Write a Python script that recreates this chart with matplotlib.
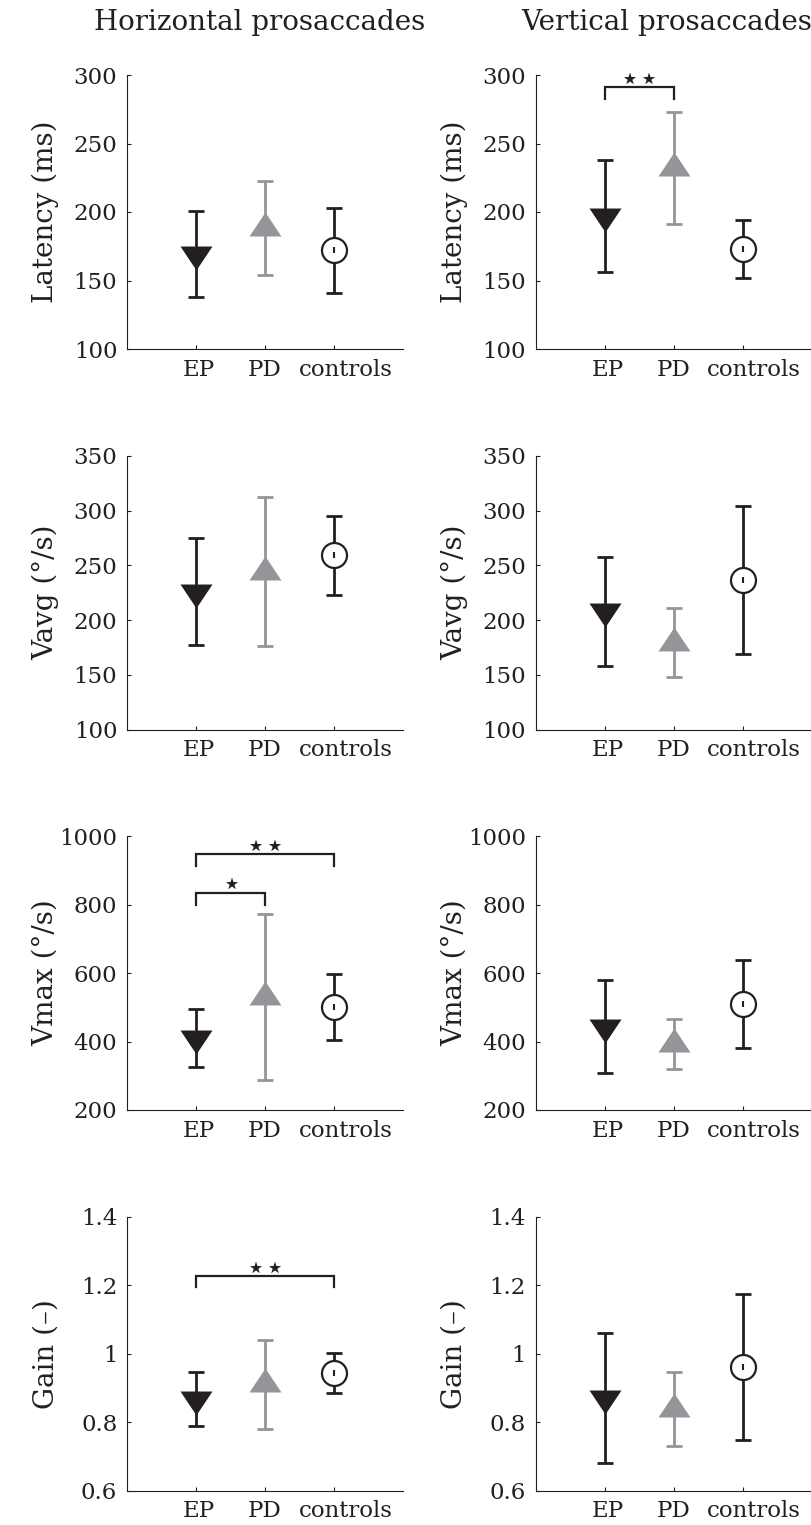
import matplotlib
matplotlib.use('Agg')
import matplotlib.pyplot as plt
import matplotlib.transforms as mtransforms
import numpy as np

plt.rcParams['font.family'] = ['DejaVu Serif']

groups = ['EP', 'PD', 'controls']
col_titles = ['Horizontal prosaccades', 'Vertical prosaccades']
ylabels = ['Latency (ms)', 'Vavg (°/s)', 'Vmax (°/s)', 'Gain (–)']

# mean and SD, one list per measure and direction
latency_h_mean = [169.5, 188.3, 172]
latency_h_sd = [31.5, 34.3, 31]
latency_v_mean = [197, 232, 173]
latency_v_sd = [41, 41, 21]

vavg_h_mean = [226, 244, 259]
vavg_h_sd = [48.5, 68, 36]
vavg_v_mean = [208, 179.4, 236.5]
vavg_v_sd = [50, 31.3, 67.5]

vmax_h_mean = [410, 530, 501]
vmax_h_sd = [85, 242, 97.5]
vmax_v_mean = [443, 393, 509]
vmax_v_sd = [136, 73, 129]

gain_h_mean = [0.868, 0.911, 0.944]
gain_h_sd = [0.078, 0.13, 0.058]
gain_v_mean = [0.871, 0.838, 0.961]
gain_v_sd = [0.19, 0.108, 0.214]

y_ranges = [(100, 300, 50), (100, 350, 50), (200, 1000, 200), (0.6, 1.4, 0.2)]
gain_ticklabels = ['0.6', '0.8', '1', '1.2', '1.4']

# significance brackets: (row, col, group a, group b, bar height, leg end, stars)
sig_pairs = [
    (0, 1, 0, 1, 291, 282.5, '⋆⋆'),
    (2, 0, 0, 2, 946, 912, '⋆⋆'),
    (2, 0, 0, 1, 834, 798, '⋆'),
    (3, 0, 0, 2, 1.227, 1.194, '⋆⋆'),
]

means = [[latency_h_mean, latency_v_mean], [vavg_h_mean, vavg_v_mean],
         [vmax_h_mean, vmax_v_mean], [gain_h_mean, gain_v_mean]]
sds = [[latency_h_sd, latency_v_sd], [vavg_h_sd, vavg_v_sd],
       [vmax_h_sd, vmax_v_sd], [gain_h_sd, gain_v_sd]]

black = '#231f20'
grey = '#939598'
colors = [black, grey, black]

# triangle markers anchored at their centroid, wider than tall
tri_down = [(-1, 0.5), (1, 0.5), (0, -1), (-1, 0.5)]
tri_up = [(-1, -0.5), (1, -0.5), (0, 1), (-1, -0.5)]

W, H = 812, 1525
fig = plt.figure(figsize=(W / 100, H / 100), dpi=100)

lefts = [127, 535.7]
bottoms = [349, 729.7, 1110, 1490.7]
ax_w, ax_h = 276.3, 274
label_shift = [2, 0, 8]  # points, group labels sit a little right in the original

x = np.arange(1, 4)
axes = {}
for r in range(4):
    for c in range(2):
        ax = fig.add_axes([lefts[c] / W, 1 - bottoms[r] / H, ax_w / W, ax_h / H])
        axes[(r, c)] = ax
        m = means[r][c]
        s = sds[r][c]
        for i in range(3):
            ax.errorbar(x[i], m[i], yerr=s[i], fmt='none', ecolor=colors[i],
                        elinewidth=2.0, capsize=6, capthick=2.0, zorder=2)
        ax.plot(x[0], m[0], marker=tri_down, ms=23, color=black, mec=black, mew=0, ls='none', zorder=3)
        ax.plot(x[1], m[1], marker=tri_up, ms=23, color=grey, mec=grey, mew=0, ls='none', zorder=3)
        ax.plot(x[2], m[2], marker='o', ms=18, mfc='white', mec=black, mew=1.6, ls='none', zorder=3)
        ax.plot(x[2], m[2], marker='|', ms=4, mec=black, mew=1.5, ls='none', zorder=4)

        lo, hi, step = y_ranges[r]
        ax.set_xlim(0, 4)
        ax.set_ylim(lo, hi)
        ticks = np.arange(lo, hi + step / 2, step)
        ax.set_yticks(ticks)
        if r == 3:
            ax.set_yticklabels(gain_ticklabels)
        else:
            ax.set_yticklabels([f'{t:g}' for t in ticks])
        ax.set_xticks(x)
        ax.set_xticklabels([])
        trans = ax.get_xaxis_transform()
        for i, g in enumerate(groups):
            ax.annotate(g, (x[i], 0), xycoords=trans, xytext=(label_shift[i], -7),
                        textcoords='offset points', ha='center', va='top',
                        fontsize=16.5, color=black)
        ax.spines['top'].set_visible(False)
        ax.spines['right'].set_visible(False)
        for sp in ['left', 'bottom']:
            ax.spines[sp].set_linewidth(0.8)
            ax.spines[sp].set_color(black)
        ax.tick_params(direction='in', length=3, width=0.8, colors=black,
                       labelsize=16.5, pad=7)
        ax.set_ylabel(ylabels[r], fontsize=20, color=black)
        ax.yaxis.set_label_coords(-0.245, 0.5)

for r, c, a, b, ybar, yend, stars in sig_pairs:
    ax = axes[(r, c)]
    ax.plot([x[a], x[a], x[b], x[b]], [yend, ybar, ybar, yend], color=black, lw=1.6,
            solid_joinstyle='miter', zorder=2)
    ax.annotate(stars, ((x[a] + x[b]) / 2, ybar), xytext=(0, -1), textcoords='offset points',
                ha='center', va='baseline', fontsize=23, family=['DejaVu Sans'], color=black)

fig.text(260 / W, 1 - 23 / H, col_titles[0], ha='center', va='center', fontsize=20, color=black)
fig.text(666.5 / W, 1 - 23 / H, col_titles[1], ha='center', va='center', fontsize=20, color=black)

fig.savefig('out.png', dpi=100)
